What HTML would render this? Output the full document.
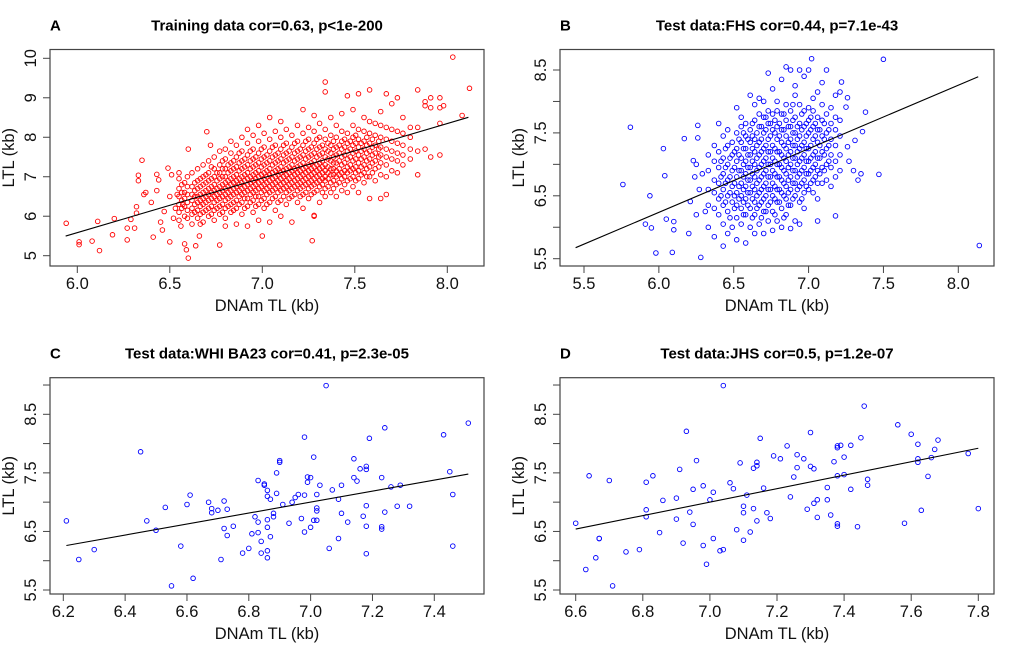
<!DOCTYPE html>
<html><head><meta charset="utf-8"><style>
html,body{margin:0;padding:0;background:#fff}
svg{display:block;font-family:"Liberation Sans",Arial,sans-serif}
</style></head><body>
<svg id="fig" width="1020" height="656" viewBox="0 0 1020 656"></svg>
<script>
// ---------- Panel A data (training) ----------
const aLeftX=[5.94,6.01,6.01,6.08,6.11,6.12,6.20,6.19,6.27,6.27,6.31,6.29,6.32,6.32,6.33,6.33,6.35,6.36,6.37,6.40,6.41,6.43,6.43,6.44,6.45,6.46,6.47,6.49,6.50,6.50,6.51,6.52,6.53,6.54,6.55,6.56,6.57,6.58,6.59,6.60,6.60,6.64,6.66,6.70,6.72,6.77,6.80,7.00,7.27,7.28];
const aLeftY=[5.82,5.35,5.28,5.37,5.87,5.13,5.94,5.53,5.70,5.40,5.70,5.92,6.08,6.24,6.90,7.04,7.42,6.55,6.60,6.35,5.47,6.65,7.06,6.92,5.85,5.65,6.12,7.22,5.35,6.50,7.05,5.95,6.20,6.55,7.10,5.75,6.30,5.30,5.15,4.94,7.70,5.25,5.50,8.14,7.80,5.27,5.75,5.50,5.38,6.02];
const aColX=[6.55,6.58,6.62,6.65,6.68,6.71,6.74,6.77,6.80,6.83,6.86,6.89,6.92,6.95,6.98,7.01,7.04,7.07,7.10,7.13,7.16,7.19,7.22,7.25,7.28,7.31,7.34,7.37,7.40,7.43,7.46,7.49,7.52,7.55,7.58,7.61,7.64,7.67,7.70,7.73,7.76,7.80,7.84,7.88,7.91,7.96,7.98,8.03,8.08,8.12];
const aColY=[[5.9,6.1,6.3,6.5,6.7,6.95],[6.0,6.25,6.45,6.6,6.85],[5.8,6.05,6.2,6.4,6.55,6.75,7.1],[5.95,6.15,6.35,6.5,6.7,6.9,7.2],[5.85,6.1,6.3,6.45,6.6,6.8,7.0,7.3],[6.0,6.2,6.4,6.55,6.7,6.9,7.1,7.4],[5.9,6.15,6.35,6.5,6.65,6.8,7.0,7.2,7.5],[6.05,6.25,6.45,6.6,6.75,6.95,7.1,7.3,7.65],[5.95,6.2,6.4,6.55,6.7,6.85,7.0,7.2,7.45,7.7],[6.1,6.3,6.5,6.65,6.8,6.95,7.15,7.35,7.6,7.9],[5.8,6.2,6.4,6.6,6.75,6.9,7.05,7.25,7.5,7.8],[6.05,6.35,6.55,6.7,6.85,7.0,7.2,7.4,7.65,8.0],[5.75,6.25,6.45,6.65,6.8,6.95,7.1,7.3,7.55,7.85,8.2],[6.1,6.4,6.6,6.75,6.9,7.05,7.25,7.45,7.7,8.05],[5.9,6.3,6.5,6.7,6.85,7.0,7.15,7.35,7.6,7.9,8.3],[6.2,6.45,6.65,6.8,6.95,7.1,7.3,7.5,7.75,8.1],[5.85,6.35,6.6,6.75,6.9,7.05,7.2,7.4,7.65,7.95,8.5],[6.15,6.5,6.7,6.85,7.0,7.15,7.35,7.55,7.8,8.15],[6.0,6.4,6.65,6.8,6.95,7.1,7.25,7.45,7.7,8.0,8.4],[6.3,6.6,6.75,6.9,7.05,7.2,7.4,7.6,7.85,8.2],[5.85,6.5,6.7,6.85,7.0,7.15,7.3,7.5,7.75,8.05],[6.35,6.65,6.8,6.95,7.1,7.25,7.45,7.65,7.9,8.3],[6.2,6.55,6.75,6.9,7.05,7.2,7.35,7.55,7.8,8.1,8.7],[6.45,6.7,6.85,7.0,7.15,7.3,7.5,7.7,7.95,8.25],[6.0,6.6,6.8,6.95,7.1,7.25,7.4,7.6,7.85,8.15,8.55],[6.35,6.75,6.9,7.05,7.2,7.35,7.55,7.75,8.0,8.35],[6.5,6.7,6.9,7.0,7.15,7.3,7.5,7.7,7.95,8.2,9.4,9.15],[6.6,6.85,7.05,7.2,7.4,7.6,7.8,8.05,8.5],[6.5,6.8,7.0,7.15,7.35,7.55,7.75,8.0,8.3],[6.65,6.95,7.1,7.3,7.5,7.7,7.9,8.15,8.6],[6.6,6.9,7.1,7.25,7.45,7.65,7.85,8.1,9.05],[6.75,7.0,7.2,7.4,7.6,7.8,8.0,8.3,8.7],[6.6,6.95,7.15,7.35,7.55,7.75,7.95,8.2,9.1],[6.85,7.1,7.3,7.5,7.7,7.9,8.15,8.5],[6.45,7.0,7.25,7.45,7.65,7.85,8.1,8.4,9.2],[6.9,7.2,7.4,7.6,7.8,8.05,8.35],[6.45,7.05,7.35,7.55,7.75,8.0,8.3,8.65],[6.55,7.0,7.3,7.5,7.7,7.95,8.25,9.1],[7.15,7.45,7.65,7.9,8.2,8.85],[7.1,7.4,7.6,7.85,8.15,9.0],[7.3,7.55,7.8,8.1,8.5],[7.45,7.7,8.0,8.25],[7.05,7.65,8.25,9.2],[7.7,8.8,8.9],[7.5,8.75,9.0],[7.55,8.35,8.75,9.0],[8.8],[10.03],[8.55],[9.24]];
const aCol2X=[6.565,6.595,6.635,6.665,6.695,6.725,6.755,6.785,6.815,6.845,6.875,6.905,6.935,6.965,6.995,7.025,7.055,7.085,7.115,7.145,7.175,7.205,7.235,7.265,7.295,7.325,7.355,7.385,7.415,7.445,7.475,7.505,7.535,7.565,7.595,7.63];
const aCol2Y=[[6.2,6.4,6.6,6.8],[5.95,6.15,6.35,6.55,6.75,7.0],[6.1,6.3,6.5,6.65,6.85],[5.8,6.05,6.25,6.4,6.55,6.75,6.95],[6.15,6.35,6.5,6.65,6.85,7.05],[6.05,6.25,6.45,6.6,6.75,6.95,7.25],[6.2,6.4,6.55,6.7,6.9,7.1],[6.1,6.3,6.5,6.65,6.8,7.0,7.2,7.4],[6.25,6.45,6.6,6.75,6.9,7.1,7.3],[6.15,6.35,6.55,6.7,6.85,7.0,7.2,7.4],[6.3,6.5,6.65,6.8,6.95,7.15,7.35,7.6],[6.2,6.45,6.6,6.75,6.9,7.05,7.25,7.45],[6.35,6.55,6.7,6.85,7.0,7.2,7.4,7.65],[6.25,6.5,6.65,6.8,6.95,7.1,7.3,7.5],[6.4,6.6,6.75,6.9,7.05,7.25,7.45,7.7],[6.3,6.55,6.7,6.85,7.0,7.15,7.35,7.55],[6.45,6.65,6.8,6.95,7.1,7.3,7.5,7.75],[6.35,6.6,6.75,6.9,7.05,7.2,7.4,7.6],[6.5,6.7,6.85,7.0,7.15,7.35,7.55,7.8],[6.45,6.65,6.8,6.95,7.1,7.25,7.45,7.65],[6.55,6.75,6.9,7.05,7.2,7.4,7.6,7.85],[6.5,6.7,6.85,7.0,7.15,7.3,7.5,7.7],[6.6,6.8,6.95,7.1,7.25,7.45,7.65,7.9],[6.55,6.75,6.9,7.05,7.2,7.35,7.55,7.75],[6.65,6.85,7.0,7.15,7.3,7.5,7.7,7.95],[6.6,6.8,6.95,7.1,7.25,7.4,7.6,7.8],[6.75,6.95,7.1,7.25,7.45,7.65,7.85],[6.7,6.9,7.05,7.2,7.35,7.5,7.7,7.9],[6.85,7.05,7.2,7.4,7.6,7.8],[6.8,7.0,7.15,7.35,7.55,7.75,7.95],[6.95,7.15,7.3,7.5,7.7,7.9],[6.9,7.1,7.25,7.45,7.65,7.85,8.05],[7.05,7.25,7.45,7.65,7.85],[7.0,7.2,7.4,7.6,7.8,8.0],[7.1,7.35,7.55,7.75,7.95],[7.25,7.5,7.7,7.9]];
const aLineX=[5.937,8.114], aLineY=[5.498,8.505];

// ---------- Panel B data (FHS) ----------
const bLeftX=[5.76,5.81,5.91,5.95,5.94,5.98,6.03,6.04,6.05,6.09,6.10,6.10,6.17,6.20,6.21,6.23,6.25,6.26,6.26,6.28,6.24,6.27,6.29,6.25,6.31,7.47,7.50,8.14,7.38,7.36,7.33,7.35,7.30,7.27,7.22,7.18,7.26,7.31,7.02,7.25,7.26];
const bLeftY=[6.68,7.59,6.05,5.99,6.50,5.59,7.25,6.82,6.13,5.60,6.09,5.96,7.41,5.90,6.41,7.06,7.00,7.62,7.42,5.52,6.80,6.60,6.85,6.20,6.25,6.84,8.67,5.71,7.83,7.52,6.75,6.85,6.90,7.05,8.31,6.18,7.28,7.38,8.68,7.91,8.06];
const bColX=[6.33,6.37,6.40,6.43,6.46,6.49,6.52,6.55,6.58,6.61,6.64,6.67,6.70,6.73,6.76,6.79,6.82,6.85,6.88,6.91,6.94,6.97,7.00,7.03,7.06,7.09,7.12,7.15,7.18,7.21];
const bColY=[[6.0,6.35,6.6,6.9,7.15],[5.85,6.3,6.55,6.75,7.05,7.3],[6.2,6.45,6.7,6.95,7.2,7.65],[5.7,6.05,6.35,6.6,6.85,7.1,7.45],[5.9,6.25,6.5,6.75,7.0,7.3,7.55],[6.0,6.4,6.65,6.9,7.15,7.35],[5.8,6.15,6.35,6.55,6.8,7.05,7.25,7.5,7.9],[6.05,6.3,6.5,6.7,6.9,7.1,7.35,7.6,7.75],[5.75,6.2,6.45,6.65,6.85,7.05,7.25,7.45,7.65],[6.0,6.3,6.55,6.75,6.95,7.15,7.35,7.55,8.1],[5.9,6.2,6.4,6.6,6.8,7.0,7.2,7.4,7.7,7.95],[6.05,6.35,6.55,6.75,6.95,7.15,7.35,7.6,7.8,8.05],[5.9,6.25,6.45,6.65,6.85,7.05,7.25,7.5,7.75,8.0],[6.1,6.35,6.6,6.8,7.0,7.2,7.4,7.65,7.85,8.45],[5.95,6.25,6.5,6.7,6.9,7.1,7.3,7.55,7.8,8.2],[6.1,6.4,6.6,6.8,7.0,7.2,7.4,7.6,7.85,8.0],[6.0,6.3,6.55,6.75,6.95,7.15,7.35,7.55,7.8,8.35],[6.2,6.45,6.65,6.85,7.05,7.25,7.45,7.7,7.95,8.55],[5.98,6.35,6.6,6.8,7.0,7.2,7.4,7.6,7.85,8.5],[6.1,6.5,6.7,6.9,7.1,7.3,7.5,7.75,8.1,8.25],[6.05,6.4,6.65,6.85,7.05,7.25,7.45,7.65,7.95,8.5],[6.3,6.55,6.75,6.95,7.15,7.35,7.6,7.85,8.4],[6.6,6.85,7.05,7.25,7.5,7.7,7.9,8.5],[6.55,6.75,6.95,7.15,7.4,7.6,7.85,8.05],[6.1,6.45,6.7,6.9,7.1,7.35,7.55,7.75,8.15],[6.7,6.95,7.2,7.45,7.7,7.95,8.3],[6.75,7.0,7.25,7.5,7.8,8.5],[6.65,6.95,7.15,7.4,7.65,7.9],[6.8,7.05,7.3,7.55,7.75,8.1],[6.9,7.15,7.45,7.7,8.15]];
const bCol2X=[6.415,6.445,6.475,6.505,6.535,6.565,6.595,6.625,6.655,6.685,6.715,6.745,6.775,6.805,6.835,6.865,6.895,6.925,6.955,6.985,7.015,7.045,7.075,7.105,7.135];
const bCol2Y=[[6.5,6.8,7.05],[6.4,6.7,6.95,7.25],[6.15,6.55,6.8,7.1],[6.3,6.5,6.7,6.95,7.2],[6.45,6.65,6.9,7.15,7.4],[6.2,6.4,6.6,6.8,7.0,7.25,7.5],[6.35,6.55,6.75,6.95,7.15,7.4],[6.15,6.45,6.65,6.85,7.05,7.25,7.45,7.65],[6.3,6.5,6.7,6.9,7.1,7.3,7.5],[6.15,6.4,6.6,6.8,7.0,7.2,7.4,7.6],[6.25,6.5,6.7,6.9,7.1,7.3,7.55,7.75],[6.4,6.6,6.8,7.0,7.2,7.45,7.65],[6.2,6.45,6.65,6.85,7.05,7.25,7.5,7.7],[6.4,6.6,6.8,7.0,7.2,7.45,7.65],[6.15,6.5,6.7,6.9,7.1,7.3,7.55,7.8],[6.35,6.55,6.75,6.95,7.15,7.35,7.6],[6.45,6.7,6.9,7.1,7.3,7.5,7.7,7.95],[6.6,6.8,7.0,7.2,7.4,7.6],[6.45,6.7,6.9,7.1,7.3,7.55,7.8],[6.65,6.85,7.05,7.25,7.45,7.65],[6.7,6.9,7.1,7.3,7.55,7.75],[6.8,7.0,7.2,7.45,7.65],[6.85,7.1,7.3,7.55],[6.9,7.15,7.4,7.65],[7.05,7.3,7.55]];
const bLineX=[5.444,8.133], bLineY=[5.675,8.393];

// ---------- Panel C data (WHI BA23) ----------
const cX=[6.21,6.25,6.30,6.45,6.47,6.50,6.53,6.55,6.58,6.60,6.61,6.62,6.67,6.68,6.68,6.70,6.71,6.72,6.72,6.73,6.73,6.75,6.78,6.80,6.81,6.82,6.83,6.83,6.83,6.84,6.84,6.85,6.85,6.86,6.86,6.86,6.86,6.86,6.86,6.87,6.87,6.88,6.88,6.89,6.89,6.90,6.90,6.91,6.93,6.94,6.95,6.96,6.97,6.98,6.98,6.98,6.99,6.99,7.00,7.00,7.01,7.01,7.02,7.02,7.02,7.02,7.03,7.05,7.06,7.07,7.09,7.09,7.10,7.10,7.12,7.14,7.14,7.15,7.16,7.17,7.18,7.18,7.18,7.18,7.18,7.19,7.23,7.23,7.23,7.24,7.24,7.26,7.28,7.29,7.32,7.43,7.45,7.46,7.46,7.51];
const cY=[6.68,6.02,6.19,7.86,6.68,6.52,6.91,5.57,6.25,6.96,7.12,5.70,7.00,6.89,6.82,6.86,6.02,6.55,7.02,6.43,6.88,6.59,6.13,6.21,6.46,6.75,7.37,6.48,6.66,6.13,6.33,7.29,7.31,7.20,7.10,6.17,6.05,6.70,6.57,6.41,7.05,6.75,6.81,7.15,7.50,7.71,7.68,6.96,6.64,7.00,7.08,7.13,6.72,6.49,8.11,7.12,7.34,7.43,6.57,7.42,7.77,6.69,6.69,6.90,6.85,7.13,7.29,8.99,6.21,7.21,7.05,6.38,6.81,7.29,6.66,7.74,7.42,7.36,7.57,6.76,7.56,7.61,6.94,6.59,6.12,8.09,7.42,6.54,6.58,6.83,8.27,7.26,6.93,7.29,6.93,8.15,7.52,7.13,6.25,8.35];
const cLineX=[6.21,7.51], cLineY=[6.26,7.48];

// ---------- Panel D data (JHS) ----------
const dX=[6.60,6.63,6.64,6.66,6.67,6.67,6.70,6.71,6.75,6.79,6.81,6.81,6.81,6.83,6.85,6.86,6.90,6.90,6.91,6.92,6.93,6.94,6.95,6.95,6.96,6.98,6.98,6.99,7.00,7.01,7.01,7.03,7.04,7.04,7.06,7.07,7.08,7.09,7.10,7.10,7.10,7.11,7.12,7.13,7.13,7.14,7.14,7.14,7.15,7.16,7.17,7.18,7.19,7.21,7.23,7.24,7.25,7.26,7.26,7.28,7.29,7.30,7.30,7.31,7.31,7.32,7.32,7.35,7.35,7.36,7.37,7.38,7.38,7.39,7.38,7.38,7.38,7.40,7.40,7.42,7.42,7.44,7.45,7.46,7.47,7.47,7.56,7.58,7.60,7.62,7.62,7.62,7.63,7.65,7.66,7.67,7.68,7.77,7.80];
const dY=[6.64,5.85,7.45,6.05,6.38,6.38,7.37,5.57,6.15,6.19,6.87,7.34,6.75,7.45,6.48,7.03,7.07,6.71,7.56,6.30,8.21,6.83,7.22,6.62,7.71,6.26,7.28,5.94,7.04,7.17,6.38,6.17,6.19,8.99,7.33,7.23,6.53,7.67,6.93,6.82,6.35,7.12,6.49,7.58,6.89,7.68,7.62,6.68,8.09,7.24,6.82,6.72,7.79,7.74,7.96,7.09,7.43,7.81,7.59,7.74,6.88,8.19,7.61,7.57,6.98,6.74,7.04,7.25,7.04,6.78,7.69,7.93,7.96,7.97,7.45,6.63,6.59,7.77,7.47,7.97,7.22,6.58,8.10,8.64,7.39,7.29,8.32,6.64,8.16,7.99,7.74,7.68,6.86,7.44,7.76,7.90,8.06,7.83,6.89];
const dLineX=[6.60,7.80], dLineY=[6.54,7.92];

// ---------- Tick arrays ----------
const aXTicks=[6.0,6.5,7.0,7.5,8.0], aXLabels=["6.0","6.5","7.0","7.5","8.0"];
const aYTicks=[5,6,7,8,9,10], aYLabels=["5","6","7","8","9","10"];
const bXTicks=[5.5,6.0,6.5,7.0,7.5,8.0], bXLabels=["5.5","6.0","6.5","7.0","7.5","8.0"];
const bYTicks=[5.5,6.0,6.5,7.0,7.5,8.0,8.5], bYLabels=["5.5","","6.5","","7.5","","8.5"];
const cXTicks=[6.2,6.4,6.6,6.8,7.0,7.2,7.4], cXLabels=["6.2","6.4","6.6","6.8","7.0","7.2","7.4"];
const cdYTicks=[5.5,6.0,6.5,7.0,7.5,8.0,8.5,9.0], cdYLabels=["5.5","","6.5","","7.5","","8.5",""];
const dXTicks=[6.6,6.8,7.0,7.2,7.4,7.6,7.8], dXLabels=["6.6","6.8","7.0","7.2","7.4","7.6","7.8"];

const NS="http://www.w3.org/2000/svg";
const fig=document.getElementById('fig');
function mk(tag,attrs,parent){const e=document.createElementNS(NS,tag);for(const k in attrs)e.setAttribute(k,attrs[k]);parent.appendChild(e);return e;}
function lin(d0,d1,p0,p1){return v=>p0+(v-d0)*(p1-p0)/(d1-d0);}

function panel(o){
  const g=mk('g',{},fig);
  
  
  const L=o.box[0],T=o.box[1],R=o.box[2],B=o.box[3];
  const sx=lin(o.xd[0],o.xd[1],o.xp[0],o.xp[1]);
  const sy=lin(o.yd[0],o.yd[1],o.yp[0],o.yp[1]);
  const lt=mk('text',{x:L,y:T-19,'font-size':15,'font-weight':'bold'},g);lt.textContent=o.letter;
  
  
  const tt=mk('text',{x:(L+R)/2,y:T-19,'font-size':15,'font-weight':'bold','text-anchor':'middle'},g);tt.textContent=o.title;
  
  
  const pts=mk('g',{fill:'none',stroke:o.color,'stroke-width':0.9},g);
  
  
  for(let i=0;i<o.px.length;i++){
    const c=mk('circle',{cx:sx(o.px[i]).toFixed(1),cy:sy(o.py[i]).toFixed(1),r:2.3},pts);
    
    
  }
  const ln=mk('line',{x1:sx(o.lx[0]),y1:sy(o.ly[0]),x2:sx(o.lx[1]),y2:sy(o.ly[1]),stroke:'#000','stroke-width':1.1},g);
  
  
  const bx=mk('rect',{x:L,y:T,width:R-L,height:B-T,fill:'none',stroke:'#444','stroke-width':1.2},g);
  
  
  const xa=mk('g',{},g);
  
  
  o.xt.forEach((v,i)=>{const x=sx(v);
    mk('line',{x1:x,y1:B,x2:x,y2:B+7,stroke:'#444','stroke-width':1},xa);
    const t=mk('text',{x:x,y:B+23,'font-size':16.5,'text-anchor':'middle',fill:'#111'},xa);t.textContent=o.xl[i];
    
    
  });
  const xt=mk('text',{x:(L+R)/2,y:B+45,'font-size':16.5,'text-anchor':'middle',fill:'#111'},g);xt.textContent='DNAm TL (kb)';
  
  
  const ya=mk('g',{},g);
  
  
  o.yt.forEach((v,i)=>{const y=sy(v);
    mk('line',{x1:L-7,y1:y,x2:L,y2:y,stroke:'#444','stroke-width':1},ya);
    if(o.yl[i]){const t=mk('text',{x:0,y:0,'font-size':16.5,'text-anchor':'middle',fill:'#111',transform:`translate(${L-14},${y}) rotate(-90)`},ya);t.textContent=o.yl[i];
    
    }
  });
  const yt=mk('text',{x:0,y:0,'font-size':16.5,'text-anchor':'middle',fill:'#111',transform:`translate(${L-36},${(T+B)/2}) rotate(-90)`},g);yt.textContent='LTL (kb)';
  
  
}
function flat(cols,lx,ly){const X=lx.slice(),Y=ly.slice();cols.forEach(([cx,cy])=>cx.forEach((x,i)=>cy[i].forEach(y=>{X.push(x);Y.push(y);})));return [X,Y];}
const A=flat([[aColX,aColY],[aCol2X,aCol2Y]],aLeftX,aLeftY), Bd=flat([[bColX,bColY],[bCol2X,bCol2Y]],bLeftX,bLeftY);

panel({name:'panel-a-training',letter:'A',title:'Training data cor=0.63, p<1e-200',color:'#ff0000',box:[50,49.5,484,266],
  xd:[6,8],xp:[77.3,447.3],yd:[5,10],yp:[255.7,58.3],px:A[0],py:A[1],lx:aLineX,ly:aLineY,xt:aXTicks,xl:aXLabels,yt:aYTicks,yl:aYLabels});
panel({name:'panel-b-fhs',letter:'B',title:'Test data:FHS cor=0.44, p=7.1e-43',color:'#0000ff',box:[560,49.5,994,266],
  xd:[5.5,8],xp:[584,958.3],yd:[5.5,8.5],yp:[258.7,70],px:Bd[0],py:Bd[1],lx:bLineX,ly:bLineY,xt:bXTicks,xl:bXLabels,yt:bYTicks,yl:bYLabels});
panel({name:'panel-c-whi',letter:'C',title:'Test data:WHI BA23 cor=0.41, p=2.3e-05',color:'#0000ff',box:[50,377.7,484,594],
  xd:[6.2,7.4],xp:[63.3,434.3],yd:[5.5,8.5],yp:[590,414.3],px:cX,py:cY,lx:cLineX,ly:cLineY,xt:cXTicks,xl:cXLabels,yt:cdYTicks,yl:cdYLabels});
panel({name:'panel-d-jhs',letter:'D',title:'Test data:JHS cor=0.5, p=1.2e-07',color:'#0000ff',box:[560,377.7,994,594],
  xd:[6.6,7.8],xp:[575.7,978.3],yd:[5.5,8.5],yp:[590,414.3],px:dX,py:dY,lx:dLineX,ly:dLineY,xt:dXTicks,xl:dXLabels,yt:cdYTicks,yl:cdYLabels});
</script>
</body></html>
